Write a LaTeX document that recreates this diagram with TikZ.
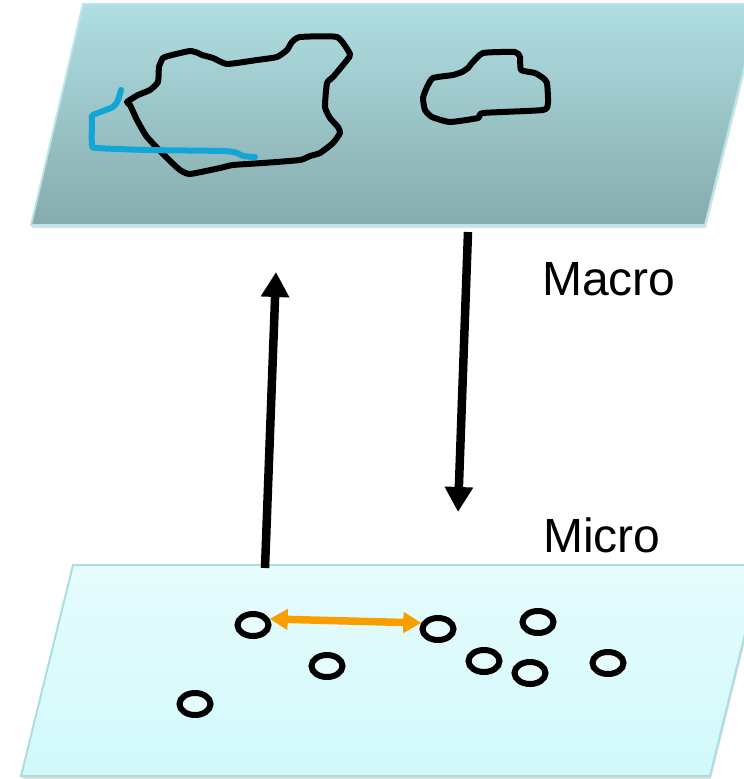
\documentclass[tikz,border=0pt]{standalone}
\usepackage{fontspec}
\setmainfont{Liberation Sans}
\usetikzlibrary{arrows.meta,shapes.geometric,shadows}
\definecolor{macrotop}{RGB}{176,222,226}
\definecolor{macrobot}{RGB}{134,171,173}
\definecolor{macroedge}{RGB}{184,230,233}
\definecolor{microtop}{RGB}{231,252,253}
\definecolor{microbot}{RGB}{208,249,250}
\definecolor{microedge}{RGB}{172,222,225}
\definecolor{riverblue}{RGB}{18,166,214}
\definecolor{swaporange}{RGB}{250,158,0}
\begin{document}
\begin{tikzpicture}[x=1pt, y=-1pt,
    plane/.style={line width=2pt, drop shadow={opacity=0.25, shadow xshift=1pt, shadow yshift=-3pt}},
    p/.style={ellipse, draw, fill=microtop, line width=6pt, minimum width=31pt, minimum height=22pt, inner sep=0pt,
      drop shadow={opacity=0.2, shadow xshift=1pt, shadow yshift=-3pt}},
    level/.style={anchor=base west, inner sep=0pt, font=\fontsize{48}{58}\selectfont},
    blob/.style={line width=6pt, line join=round, line cap=round},
    updown/.style={line width=8.5pt, -{Triangle[length=25pt,width=27pt]}},
    swap/.style={swaporange, line width=7.5pt, {Triangle[length=18pt,width=20pt]}-{Triangle[length=18pt,width=20pt]}}]
    \useasboundingbox (0,0) rectangle (744,779);
    \clip (0,0) rectangle (744,779);

    % planes
    \draw[plane, draw=macroedge, top color=macrotop, bottom color=macrobot]
        (83,4) -- (760,4) -- (705,225) -- (31,225) -- cycle;
    \draw[plane, draw=microedge, top color=microtop, bottom color=microbot]
        (73,565) -- (762,565) -- (710,776) -- (21,776) -- cycle;

    % macro shapes
    \draw[blob] plot[smooth cycle, tension=0.3] coordinates {
        (127,102) (138,95) (150,90) (158,82) (159,67) (163,58) (172,55) (190,51)
        (198,53) (202,55) (213,58) (227,64) (257,60) (277,57) (287,50) (292,42)
        (300,37) (337,37) (350,54) (347,60) (333,77) (327,83) (325,107) (330,118)
        (338,127) (340,133) (333,143) (320,153) (310,156) (300,160) (263,163)
        (233,165) (220,168) (190,174) (180,170) (167,158) (147,137) (137,120) (130,105)};
    \draw[blob] plot[smooth cycle, tension=0.3] coordinates {
        (425,110) (423,98) (427,87) (433,78) (453,75) (462,72) (468,68) (472,63)
        (483,53) (515,52) (520,57) (521,70) (535,73) (543,78) (547,83) (548,103)
        (543,110) (483,113) (478,118) (450,122) (432,117)};
    \draw[blob, riverblue] plot[smooth, tension=0.4] coordinates {
        (121,90) (118,100) (113,107) (93,115) (92,120) (92,145) (97,148)
        (147,150) (223,151) (237,153) (243,156) (255,157)};

    % micro particles
    \node[p] (p1) at (253,625) {};
    \node[p] (p2) at (438,629) {};
    \node[p] (p3) at (538,622) {};
    \node[p] (p4) at (327,666) {};
    \node[p] (p5) at (484,661) {};
    \node[p] (p6) at (530,673) {};
    \node[p] (p7) at (608,663) {};
    \node[p] (p8) at (195,704) {};

    \draw[swap] (p1.20) -- (p2.160);

    % levels
    \node[level] (macro) at (542,295) {Macro};
    \node[level] (micro) at (543,552) {Micro};

    \coordinate (upfoot) at (265,568);
    \coordinate (uphead) at (276,272);
    \coordinate (downfoot) at (468,232);
    \coordinate (downhead) at (458,512);
    \draw[updown] (upfoot) -- (uphead);
    \draw[updown] (downfoot) -- (downhead);
\end{tikzpicture}
\end{document}
